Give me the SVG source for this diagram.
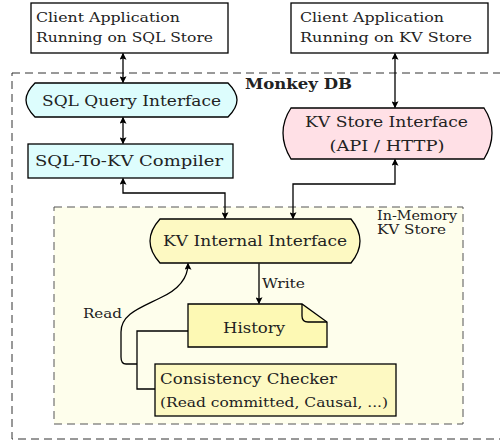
<svg xmlns="http://www.w3.org/2000/svg" width="500" height="442" viewBox="0 0 500 442">
<defs>
<marker id="ah" viewBox="0 0 10 10" refX="9" refY="5" markerWidth="7" markerHeight="7" markerUnits="userSpaceOnUse" orient="auto-start-reverse">
<path d="M0,0 L10,5 L0,10 L2,5 Z" fill="#000"/>
</marker>
<style>
text{font-family:'DejaVu Serif','Liberation Serif',serif;fill:#222}
.big{font-size:15px}
.mid{font-size:13.5px}
.sm{font-size:12px}
.box{stroke:#000;stroke-width:1.3}
.con{fill:none;stroke:#000;stroke-width:1.3}
</style>
</defs>
<rect width="500" height="442" fill="#fff"/>
<g id="monkeydb">
<rect x="12" y="73" width="500" height="366" fill="none" stroke="#333" stroke-width="1" stroke-dasharray="8,5"/>
<text x="245" y="89" style="font-size:14px;font-weight:bold" textLength="107" lengthAdjust="spacingAndGlyphs">Monkey DB</text>
</g>
<g id="inmemory">
<rect x="54" y="207" width="409" height="217" fill="#fefeec" stroke="#555" stroke-width="1" stroke-dasharray="8,5"/>
<text x="377" y="220" class="sm" textLength="80" lengthAdjust="spacingAndGlyphs">In-Memory</text>
<text x="377" y="234" class="sm" textLength="69" lengthAdjust="spacingAndGlyphs">KV Store</text>
</g>
<g id="client-sql">
<rect x="31" y="3" width="197" height="50" fill="#fff" class="box"/>
<text x="36" y="22" class="mid" textLength="144" lengthAdjust="spacingAndGlyphs">Client Application</text>
<text x="36" y="42" class="mid" textLength="177" lengthAdjust="spacingAndGlyphs">Running on SQL Store</text>
</g>
<g id="client-kv">
<rect x="291" y="3" width="197" height="50" fill="#fff" class="box"/>
<text x="300" y="22" class="mid" textLength="144" lengthAdjust="spacingAndGlyphs">Client Application</text>
<text x="300" y="42" class="mid" textLength="172" lengthAdjust="spacingAndGlyphs">Running on KV Store</text>
</g>
<g id="sql-query">
<path d="M35,83 L228,83 Q237,92 237,100 Q237,108 228,117 L35,117 Q26,108 26,100 Q26,92 35,83 Z" fill="#ddfdfd" class="box"/>
<text x="131.5" y="106" class="big" text-anchor="middle" textLength="179" lengthAdjust="spacingAndGlyphs">SQL Query Interface</text>
</g>
<g id="sql-compiler">
<rect x="28" y="144" width="205" height="34" fill="#ddfdfd" class="box"/>
<text x="129" y="166" class="big" text-anchor="middle" textLength="188" lengthAdjust="spacingAndGlyphs">SQL-To-KV Compiler</text>
</g>
<g id="kv-store-interface">
<path d="M291,108 L484,108 Q492,120 492,133 Q492,146 484,159 L291,159 Q283,146 283,133 Q283,120 291,108 Z" fill="#ffe0e6" class="box"/>
<text x="386.5" y="127" class="big" text-anchor="middle" textLength="163" lengthAdjust="spacingAndGlyphs">KV Store Interface</text>
<text x="387" y="151" class="big" text-anchor="middle" textLength="115" lengthAdjust="spacingAndGlyphs">(API / HTTP)</text>
</g>
<g id="kv-internal">
<path d="M160,219 L351,219 Q360,230 360,241 Q360,252 351,263 L160,263 Q150,252 150,241 Q150,230 160,219 Z" fill="#fdf9c2" class="box"/>
<text x="255" y="246" class="big" text-anchor="middle" textLength="184" lengthAdjust="spacingAndGlyphs">KV Internal Interface</text>
</g>
<g id="history">
<path d="M188,304 L302,304 L327,322 L327,347 L188,347 Z" fill="#fdf9b4" class="box"/>
<path d="M302,304 L302,316 Q302,322 308,322 L327,322" fill="none" class="box"/>
<text x="254" y="333" class="big" text-anchor="middle" textLength="62" lengthAdjust="spacingAndGlyphs">History</text>
</g>
<g id="checker">
<rect x="155" y="364" width="241" height="52" fill="#fdf9c2" class="box"/>
<text x="160" y="384" class="big" textLength="177" lengthAdjust="spacingAndGlyphs">Consistency Checker</text>
<text x="160" y="407" class="mid" textLength="228" lengthAdjust="spacingAndGlyphs">(Read committed, Causal, ...)</text>
</g>
<g id="connectors">
<path d="M123,53.5 L123,82.5" class="con" marker-start="url(#ah)" marker-end="url(#ah)"/>
<path d="M123,117.5 L123,143.5" class="con" marker-start="url(#ah)" marker-end="url(#ah)"/>
<path d="M395,53.5 L395,107.5" class="con" marker-start="url(#ah)" marker-end="url(#ah)"/>
<path d="M123,178.5 L123,193 L225,193 L225,218.5" class="con" marker-start="url(#ah)" marker-end="url(#ah)"/>
<path d="M395,159.5 L395,184 L293,184 L293,218.5" class="con" marker-start="url(#ah)" marker-end="url(#ah)"/>
<path d="M259,263.5 L259,303.5" class="con" marker-end="url(#ah)"/>
<path d="M188,331 L137,331 L137,389 L155,389" class="con"/>
<path d="M137,364 L126,364 Q121,364 121,357 L121,332 C121,314 140,308 160,298 C180,289 188,278 188,263.5" class="con" marker-end="url(#ah)"/>
<text x="262" y="288" class="mid" textLength="43" lengthAdjust="spacingAndGlyphs">Write</text>
<text x="83" y="318" class="mid" textLength="39" lengthAdjust="spacingAndGlyphs">Read</text>
</g>
</svg>
